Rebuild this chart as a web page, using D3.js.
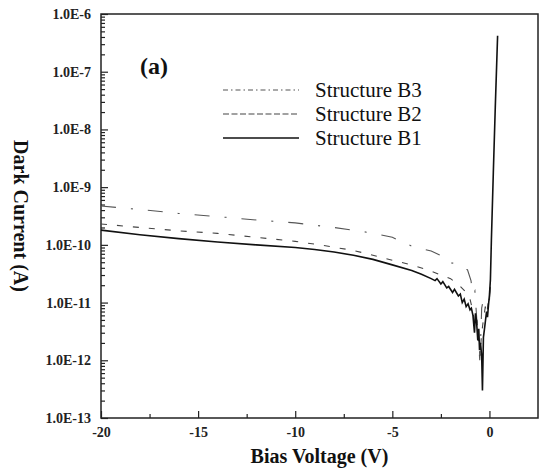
<!DOCTYPE html>
<html>
<head>
<meta charset="utf-8">
<script src="https://cdn.jsdelivr.net/npm/d3@7"></script>
<style>
  body { margin: 0; background: #fff; }
  svg text { font-family: "Liberation Serif", "Times New Roman", "DejaVu Serif", serif; }
</style>
</head>
<body>
<div id="chart"></div>
<script>
// Structure B1 (solid)
var voltsB1 = [-20, -18, -16, -14, -12, -10, -9, -8, -7, -6, -5, -4, -3.5, -3, -2.8, -2.7, -2.5, -2.4, -2.2, -2.1, -1.9, -1.8,
               -1.6, -1.5, -1.4, -1.3, -1.2, -1.1, -1.0, -0.93, -0.85, -0.77, -0.72, -0.67, -0.6, -0.55, -0.51, -0.46,
               -0.4, -0.36, -0.31, -0.26, -0.2, -0.15, -0.1, -0.05, 0, 0.05, 0.1, 0.2, 0.3, 0.42];
var currentB1 = [1.8e-10, 1.5e-10, 1.28e-10, 1.12e-10, 1.0e-10, 9.0e-11, 8.3e-11, 7.5e-11, 6.6e-11, 5.6e-11, 4.5e-11, 3.6e-11,
                 3.1e-11, 2.6e-11, 2.4e-11, 2.6e-11, 2.1e-11, 2.3e-11, 1.8e-11, 1.9e-11, 1.5e-11, 1.7e-11, 1.3e-11, 1.4e-11,
                 1.0e-11, 1.15e-11, 8.5e-12, 9.5e-12, 7.5e-12, 8e-12, 6e-12, 3e-12, 6.5e-12, 5e-12, 2.2e-12, 3.5e-12,
                 1.5e-12, 2e-12, 1.2e-12, 3e-13, 2.5e-12, 3.4e-12, 5e-12, 7e-12, 5.6e-12, 9e-12, 1.35e-11, 2.5e-11,
                 1.2e-10, 1.8e-9, 2.4e-8, 4.2e-7];

// Structure B2 (dashed)
var voltsB2 = [-20, -18, -16, -14, -12, -10, -8.75, -7, -6, -5, -4, -3, -2.5, -2, -1.5, -1.2, -1.0, -0.85, -0.75,
               -0.65, -0.55, -0.48, -0.42, -0.35, -0.28, -0.2, -0.12, -0.05, 0, 0.05];
var currentB2 = [2.3e-10, 2.0e-10, 1.75e-10, 1.58e-10, 1.35e-10, 1.15e-10, 1.0e-10, 8.0e-11, 6.6e-11, 5.4e-11, 4.5e-11, 3.5e-11,
                 3.0e-11, 2.6e-11, 1.9e-11, 1.5e-11, 1.15e-11, 7e-12, 4e-12, 5e-12, 2e-12, 1.2e-12, 2.5e-12, 4e-12, 6e-12,
                 9e-12, 7e-12, 1.1e-11, 1.3e-11, 2.2e-11];

// Structure B3 (dash-dot)
var voltsB3 = [-20, -18, -16, -13.6, -12, -10, -8, -6, -5, -4, -3, -2.5, -2.2, -1.8, -1.5, -1.13, -0.95, -0.85, -0.75,
               -0.65, -0.55, -0.5, -0.44, -0.4, -0.3, -0.2, -0.1, 0, 0.05];
var currentB3 = [4.7e-10, 4.1e-10, 3.5e-10, 3.0e-10, 2.7e-10, 2.4e-10, 2.0e-10, 1.6e-10, 1.35e-10, 9.5e-11, 7.8e-11, 6.5e-11,
                 4.9e-11, 4.8e-11, 4.0e-11, 3.7e-11, 2.4e-11, 1.4e-11, 1.6e-11, 5e-12, 2e-12, 1e-12, 3e-12, 8e-12, 1.2e-11,
                 8e-12, 1.3e-11, 1.1e-11, 2e-11];

var xTicks = [-20, -15, -10, -5, 0];
var xMinorTicks = [-17.5, -12.5, -7.5, -2.5];
var yTicks = [1e-13, 1e-12, 1e-11, 1e-10, 1e-9, 1e-8, 1e-7, 1e-6];
var legendNames = ["Structure B3", "Structure B2", "Structure B1"];

var serif = '"Liberation Serif", "Times New Roman", "DejaVu Serif", serif';
var width = 539, height = 473;
var margin = {top: 14, right: 1, bottom: 55, left: 101};

var svg = d3.select("#chart").append("svg")
    .attr("width", width)
    .attr("height", height);

var x = d3.scaleLinear().domain([-20, 2.5]).range([margin.left, width - margin.right]);
var y = d3.scaleLog().domain([1e-13, 1e-6]).range([height - margin.bottom, margin.top]);

// minor log ticks 2..9 in each decade
var yMinor = [];
yTicks.slice(0, -1).forEach(function(d) {
    for (var k = 2; k <= 9; k++) yMinor.push(d * k);
});

var expFormat = function(d) { return "1.0E" + Math.round(Math.log10(d)); };

// y axis
var gy = svg.append("g").attr("transform", "translate(" + margin.left + ",0)");
gy.call(d3.axisLeft(y).tickValues(yTicks).tickFormat(expFormat).tickSize(-7).tickPadding(10));
gy.append("g").call(d3.axisLeft(y).tickValues(yMinor).tickFormat("").tickSize(-4));

// x axis
var gx = svg.append("g").attr("transform", "translate(0," + (height - margin.bottom) + ")");
gx.call(d3.axisBottom(x).tickValues(xTicks).tickFormat(d => String(d)).tickSize(-7).tickPadding(9));
gx.append("g").call(d3.axisBottom(x).tickValues(xMinorTicks).tickFormat("").tickSize(-4));

svg.selectAll(".domain").remove();
svg.selectAll(".tick line").attr("stroke", "#222").attr("stroke-width", 1.2);
svg.selectAll(".tick text")
    .attr("fill", "#222")
    .style("font-family", serif)
    .style("font-size", "14px")
    .style("font-weight", "bold");

// frame
svg.append("rect")
    .attr("x", margin.left)
    .attr("y", margin.top)
    .attr("width", width - margin.right - margin.left)
    .attr("height", height - margin.bottom - margin.top)
    .attr("fill", "none")
    .attr("stroke", "#222")
    .attr("stroke-width", 1.5);

var line = d3.line()
    .x(d => x(d[0]))
    .y(d => y(d[1]));

var series = [
    {v: voltsB3, i: currentB3, color: "#555", w: 1.1, dash: "15,15,2,15"},
    {v: voltsB2, i: currentB2, color: "#444", w: 1.1, dash: "6,10"},
    {v: voltsB1, i: currentB1, color: "#111", w: 1.6, dash: null}
];

series.forEach(function(s) {
    svg.append("path")
        .datum(d3.zip(s.v, s.i))
        .attr("d", line)
        .attr("fill", "none")
        .attr("stroke", s.color)
        .attr("stroke-width", s.w)
        .attr("stroke-dasharray", s.dash);
});

// legend
var legendDash = ["5,3,1.5,3", "6,2.5", null];
var legendY = [90, 114, 138];
legendNames.forEach(function(name, k) {
    svg.append("line")
        .attr("x1", 223).attr("x2", 299)
        .attr("y1", legendY[k]).attr("y2", legendY[k])
        .attr("stroke", series[k].color)
        .attr("stroke-width", k == 2 ? 1.5 : 1.1)
        .attr("stroke-dasharray", legendDash[k]);
    svg.append("text")
        .attr("x", 315)
        .attr("y", legendY[k])
        .attr("dy", "0.35em")
        .style("font-family", serif)
        .style("font-size", "21px")
        .attr("fill", "#111")
        .text(name);
});

// panel label
svg.append("text")
    .attr("x", 140)
    .attr("y", 74)
    .style("font-family", serif)
    .style("font-size", "24px")
    .style("font-weight", "bold")
    .attr("fill", "#111")
    .text("(a)");

// axis titles
svg.append("text")
    .attr("x", (margin.left + width - margin.right) / 2)
    .attr("y", 463)
    .attr("text-anchor", "middle")
    .style("font-family", serif)
    .style("font-size", "20px")
    .style("font-weight", "bold")
    .attr("fill", "#111")
    .text("Bias Voltage (V)");

svg.append("text")
    .attr("transform", "translate(14," + ((margin.top + height - margin.bottom) / 2) + ") rotate(90)")
    .attr("text-anchor", "middle")
    .style("font-family", serif)
    .style("font-size", "20px")
    .style("font-weight", "bold")
    .attr("fill", "#111")
    .text("Dark Current (A)");
</script>
</body>
</html>
